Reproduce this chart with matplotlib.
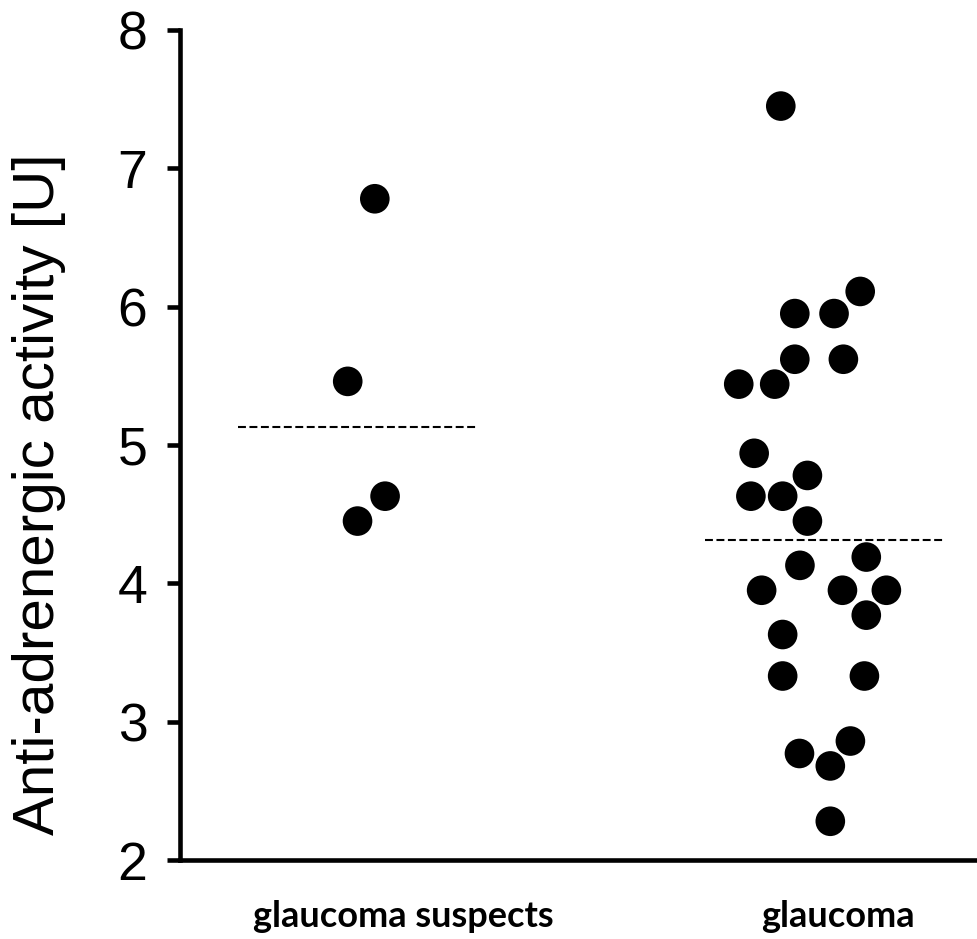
import numpy as np
import matplotlib
matplotlib.use("Agg")
import matplotlib.pyplot as plt

# group names and the value of each dot
groups = ["glaucoma suspects", "glaucoma"]

suspects_vals = [6.78, 5.46, 4.63, 4.45]
suspects_dx = [0.036, -0.022, 0.058, -0.001]

glaucoma_vals = [7.45, 6.11, 5.95, 5.95, 5.62, 5.62, 5.44, 5.44,
                 4.94, 4.78, 4.63, 4.63, 4.45, 4.13, 4.19, 3.95,
                 3.95, 3.95, 3.77, 3.63, 3.33, 3.33, 2.86, 2.77,
                 2.68, 2.28]
glaucoma_dx = [-0.095, 0.075, -0.065, 0.019, -0.065, 0.039, -0.185, -0.108,
               -0.152, -0.038, -0.159, -0.091, -0.038, -0.054, 0.088, -0.136,
               0.037, 0.131, 0.088, -0.091, -0.091, 0.084, 0.054, -0.055,
               0.011, 0.011]

# dashed reference lines per group
ref_levels = [5.13, 4.31]

yticks = [2, 3, 4, 5, 6, 7, 8]

fig = plt.figure(figsize=(9.77, 9.39), dpi=100)
ax = fig.add_axes([180 / 977, 1 - 860 / 939, 1 - 180 / 977, 830 / 939])

pos = np.arange(1, len(groups) + 1)
all_vals = [suspects_vals, glaucoma_vals]
all_dx = [suspects_dx, glaucoma_dx]

for p, vals, dx in zip(pos, all_vals, all_dx):
    ax.scatter(p + np.array(dx), vals, s=455, c="black", edgecolors="none",
               zorder=3, clip_on=False)

for p, lvl in zip(pos, ref_levels):
    ax.plot([p - 0.257, p + 0.257], [lvl, lvl], color="black", lw=1.5,
            dashes=(3.8, 1.7), zorder=2)

ax.set_xlim(0.619, 2.325)
ax.set_ylim(2, 8)
ax.set_yticks(yticks)
ax.set_yticklabels([str(t) for t in yticks], fontsize=38.5,
                   family="Liberation Sans")
# labels sit a little right of the dot columns
ax.set_xticks(pos + np.array([0.098, 0.028]))
ax.set_xticklabels(groups, fontsize=26, fontweight="bold", family="Lato")

ax.spines["top"].set_visible(False)
ax.spines["right"].set_visible(False)
ax.spines["left"].set_linewidth(3.3)
ax.spines["bottom"].set_linewidth(3.3)
ax.tick_params(axis="y", length=9.5, width=3.3, pad=14, direction="out")
ax.tick_params(axis="x", length=0, pad=29)

fig.text(0.0404, 0.474, "Anti-adrenergic activity [U]", rotation=90,
         ha="center", va="center", fontsize=42, family="Liberation Sans")

fig.savefig("out.png", dpi=100, facecolor="white")
